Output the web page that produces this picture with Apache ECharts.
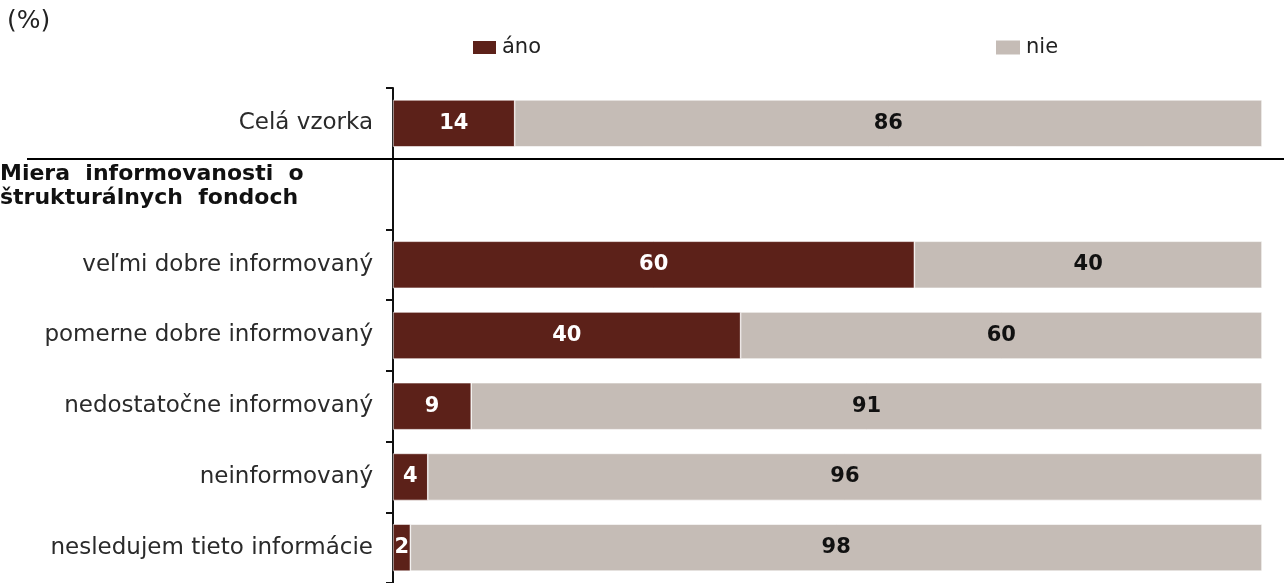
<!DOCTYPE html>
<html>
<head>
<meta charset="utf-8">
<script src="https://cdn.jsdelivr.net/npm/echarts@6/dist/echarts.min.js"></script>
<style>
html,body{margin:0;padding:0;background:#fff;}
#c{width:1284px;height:583px;}
</style>
</head>
<body>
<div id="c"></div>
<script>
const categories = ['Celá vzorka', '', 'veľmi dobre informovaný', 'pomerne dobre informovaný', 'nedostatočne informovaný', 'neinformovaný', 'nesledujem tieto informácie'];
const anoValues = [14, null, 60, 40, 9, 4, 2];
const nieValues = [86, null, 40, 60, 91, 96, 98];
const seriesNames = ['áno', 'nie'];
const headerLines = ['Miera  informovanosti  o', 'štrukturálnych  fondoch'];
const unitLabel = '(%)';

const RED = '#5C2119';
const GRAY = '#C5BCB6';
const FONT = 'DejaVu Sans';

const chart = echarts.init(document.getElementById('c'), null, {renderer: 'canvas'});

function graphics(sepY) {
  const g = [
    {type: 'text', left: 7, top: 9, style: {text: unitLabel, font: '25px "DejaVu Sans"', fill: '#222'}},
    {type: 'text', left: 0, top: 162, style: {text: headerLines.join('\n'), font: 'bold 22px "DejaVu Sans"', fill: '#111', lineHeight: 24}}
  ];
  if (sepY != null) {
    g.push({type: 'line', shape: {x1: 27, y1: sepY, x2: 1284, y2: sepY}, style: {stroke: '#000', lineWidth: 2}, z: 10});
  }
  return g;
}

const option = {
  animation: false,
  backgroundColor: '#fff',
  textStyle: {fontFamily: FONT},
  legend: [
    {data: [seriesNames[0]], icon: 'rect', left: 466, top: 32, itemWidth: 25, itemHeight: 15, itemGap: 6,
     textStyle: {fontFamily: FONT, fontSize: 21, color: '#222'}, selectedMode: false},
    {data: [seriesNames[1]], icon: 'rect', left: 989, top: 32, itemWidth: 26, itemHeight: 16, itemGap: 6,
     textStyle: {fontFamily: FONT, fontSize: 21, color: '#222'}, selectedMode: false}
  ],
  grid: {left: 393, right: 22, top: 88, height: 498, containLabel: false},
  xAxis: {type: 'value', min: 0, max: 100, show: false},
  yAxis: {
    type: 'category',
    inverse: true,
    data: categories,
    axisLine: {show: true, lineStyle: {color: '#111', width: 2}},
    axisTick: {show: true, length: 7, lineStyle: {color: '#111', width: 2}},
    axisLabel: {fontFamily: FONT, fontSize: 23, color: '#2a2a2a', margin: 20}
  },
  series: [
    {
      name: seriesNames[0], type: 'bar', stack: 't', data: anoValues, barWidth: 47,
      itemStyle: {color: RED, borderColor: '#fff', borderWidth: 0.6},
      label: {show: true, position: 'inside', color: '#fff', fontFamily: FONT, fontWeight: 'bold', fontSize: 21}
    },
    {
      name: seriesNames[1], type: 'bar', stack: 't', data: nieValues, barWidth: 47,
      itemStyle: {color: GRAY, borderColor: '#fff', borderWidth: 0.6},
      label: {show: true, position: 'inside', color: '#111', fontFamily: FONT, fontWeight: 'bold', fontSize: 21}
    }
  ],
  graphic: graphics(null)
};
chart.setOption(option);

// separator line at the boundary between first and second category
const y0 = chart.convertToPixel({yAxisIndex: 0}, categories[0]);
const y1 = chart.convertToPixel({yAxisIndex: 0}, categories[1]);
const sepY = Math.round((y0 + y1) / 2);
chart.setOption({graphic: graphics(sepY)}, {replaceMerge: ['graphic']});
</script>
</body>
</html>
